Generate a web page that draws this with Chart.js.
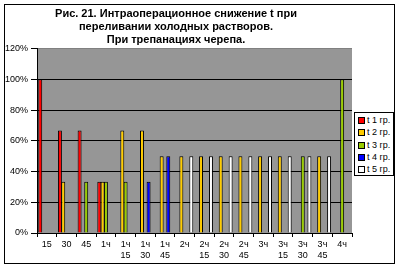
<!DOCTYPE html>
<html lang="ru">
<head>
    <meta charset="UTF-8">
    <title>Рис. 21</title>
    <script src="https://cdn.jsdelivr.net/npm/chart.js@4"></script>
    <style>
        body {
            margin: 0;
            background: #fff;
        }
        #wrap {
            position: relative;
            width: 401px;
            height: 268px;
        }
        #legend {
            position: absolute;
            left: 354px;
            top: 112px;
            width: 38px;
            height: 62px;
            border: 1px solid #000;
            background: #fff;
            font-family: 'Liberation Sans', Arial, sans-serif;
            font-size: 9px;
            color: #000;
        }
        .item {
            position: absolute;
            left: 3px;
            height: 12px;
            line-height: 12px;
            white-space: nowrap;
        }
        .box {
            display: inline-block;
            width: 5px;
            height: 5px;
            border: 1px solid #000;
            margin-right: 2px;
            vertical-align: -1px;
        }
    </style>
</head>
<body>
<div id="wrap">
    <canvas id="chart" width="401" height="268"></canvas>
    <div id="legend"></div>
</div>
<script>
    const categories = [['15'], ['30'], ['45'], ['1ч'], ['1ч', '15'], ['1ч', '30'], ['1ч', '45'], ['2ч'],
        ['2ч', '15'], ['2ч', '30'], ['2ч', '45'], ['3ч'], ['3ч', '15'], ['3ч', '30'], ['3ч', '45'], ['4ч']];

    const seriesNames = ['t 1 гр.', 't 2 гр.', 't 3 гр.', 't 4 гр.', 't 5 гр.'];
    const seriesColors = ['#ff0000', '#ffcc00', '#99cc00', '#0000ff', '#ffffff'];

    // percent of cases per time point, empty = no bar
    const t1 = [100, 66.7, 66.7, 33.3, null, null, null, null, null, null, null, null, null, null, null, null];
    const t2 = [null, 33.3, null, 33.3, 66.7, 66.7, 50, 50, 50, 50, 50, 50, 50, null, 50, null];
    const t3 = [null, null, 33.3, 33.3, 33.3, null, null, null, null, null, null, null, null, 50, null, 100];
    const t4 = [null, null, null, null, null, 33.3, 50, null, null, null, null, null, null, null, null, null];
    const t5 = [null, null, null, null, null, null, null, 50, 50, 50, 50, 50, 50, 50, 50, null];

    const yTicks = [0, 20, 40, 60, 80, 100, 120];

    const titleLines = ['Рис. 21. Интраоперационное снижение t при', 'переливании холодных растворов.', 'При трепанациях черепа.'];

    const font = "'Liberation Sans', Arial, sans-serif";

    const allSeries = [t1, t2, t3, t4, t5];
    const datasets = allSeries.map((vals, i) => ({
        label: seriesNames[i],
        data: vals,
        backgroundColor: seriesColors[i],
        borderColor: '#000',
        borderWidth: 1,
        borderSkipped: 'bottom',
        categoryPercentage: 0.84,
        barPercentage: 1.2
    }));

    // gray plot area + outer frame
    const framePlugin = {
        id: 'frame',
        beforeDraw(chart) {
            const ctx = chart.ctx;
            const a = chart.chartArea;
            ctx.save();
            ctx.fillStyle = '#fff';
            ctx.fillRect(0, 0, chart.width, chart.height);
            ctx.fillStyle = '#969696';
            ctx.fillRect(a.left, a.top, a.right - a.left, a.bottom - a.top);
            ctx.strokeStyle = '#000';
            ctx.lineWidth = 1;
            ctx.strokeRect(4.5, 4.5, 390, 259);
            ctx.restore();
        }
    };

    new Chart(document.getElementById('chart'), {
        type: 'bar',
        data: {
            labels: categories,
            datasets: datasets
        },
        plugins: [framePlugin],
        options: {
            responsive: false,
            animation: false,
            layout: {
                padding: { left: 0, right: 49, top: 0, bottom: 0 }
            },
            plugins: {
                legend: { display: false },
                tooltip: { enabled: false },
                title: {
                    display: true,
                    text: titleLines,
                    color: '#000',
                    font: { family: font, size: 11, weight: 'bold', lineHeight: 1.2 },
                    padding: { top: 7, bottom: 2 }
                }
            },
            scales: {
                x: {
                    grid: {
                        display: true,
                        drawOnChartArea: false,
                        drawTicks: true,
                        tickLength: 4,
                        color: '#000',
                        offset: true
                    },
                    border: { display: true, color: '#000' },
                    ticks: {
                        color: '#000',
                        font: { family: font, size: 9, lineHeight: 1.2 },
                        padding: 2,
                        maxRotation: 0,
                        autoSkip: false
                    },
                    afterFit(scale) { scale.height = 35; }
                },
                y: {
                    min: 0,
                    max: 120,
                    afterBuildTicks(scale) {
                        scale.ticks = yTicks.map(v => ({ value: v }));
                    },
                    grid: {
                        color: ctx => (ctx.tick && ctx.tick.value === 120) ? '#808080' : '#000',
                        tickColor: '#000',
                        tickLength: 6
                    },
                    border: { display: true, color: '#000' },
                    ticks: {
                        color: '#000',
                        font: { family: font, size: 9 },
                        padding: 3,
                        callback: v => v + '%'
                    },
                    afterFit(scale) { scale.width = 37; }
                }
            }
        }
    });

    const legend = document.getElementById('legend');
    seriesNames.forEach((name, i) => {
        const item = document.createElement('div');
        item.className = 'item';
        item.style.top = (1 + i * 12.3) + 'px';
        item.innerHTML = '<span class="box" style="background:' + seriesColors[i] + '"></span>' + name;
        legend.appendChild(item);
    });
</script>
</body>
</html>
